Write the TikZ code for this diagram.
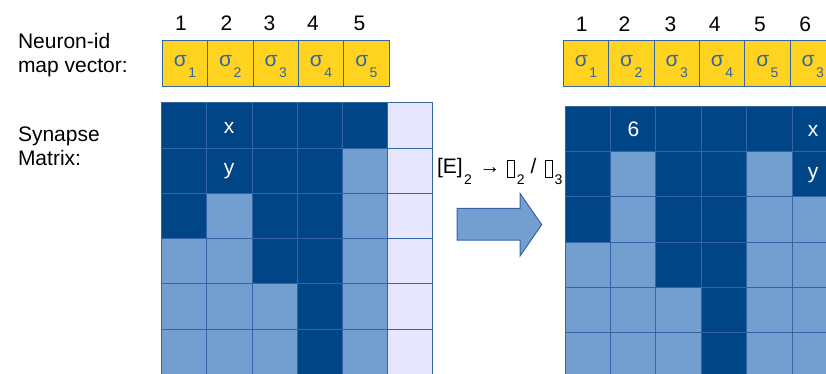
\documentclass[tikz,border=0pt]{standalone}
\usepackage{fontspec}
\setmainfont{Liberation Sans}
\definecolor{cellD}{HTML}{004586}
\definecolor{cellM}{HTML}{729FCF}
\definecolor{cellL}{HTML}{E6E6FF}
\definecolor{vecY}{HTML}{FFD320}
\definecolor{gridB}{HTML}{3465A4}
% lowered index digit
\newcommand\lowsub[2][10.5pt]{\kern1.5pt\raisebox{-#1}{\fontsize{14}{14}\selectfont #2}}
% empty placeholder glyph box
\newcommand\tofu{\raisebox{-3.4pt}{\setlength\fboxsep{0pt}\setlength\fboxrule{0.9pt}\fbox{\rule{0pt}{15.8pt}\hspace{6pt}}}}
\tikzset{
  cellbox/.style={draw=gridB, line width=1pt},
  vecbox/.style={draw=gridB, fill=vecY, line width=1pt, minimum width=45.35pt,
    minimum height=45.3pt, inner sep=0pt, outer sep=0pt},
  big/.style={font=\fontsize{21}{24}\selectfont, inner sep=0pt, outer sep=0pt},
  sig/.style={big, text=gridB, anchor=base},
  num/.style={big, anchor=base},
  celltext/.style={big, text=white, anchor=base},
  caption/.style={big, align=left, anchor=base west},
  bigarrow/.style={fill=cellM, draw=gridB, line width=1pt, line join=miter}
}
\begin{document}
\begin{tikzpicture}[x=1pt,y=-1pt]
\useasboundingbox (0,0) rectangle (826,373);
\clip (0,0) rectangle (826,373);

% row captions (base anchor sits on the last line)
\node[caption] (capvec) at (18,72) {Neuron-id\\map vector:};
\node[caption] (capmat) at (18,165.7) {Synapse\\Matrix:};

% ---- left: map vector ----
\foreach \n/\xx [count=\i] in {1/181,2/226.5,3/269.5,4/313,5/359.5}
  \node[num] (lnum\i) at (\xx,30) {\n};
\foreach \s [count=\i] in {1,2,3,4,5}{
  \node[vecbox] (lvec\i) at ({162.3+45.35*(\i-0.5)},63.35) {};
  \node[sig] (lsig\i) at (lvec\i.center |- 0,66.7) {σ\lowsub{\s}};
}

% ---- left: synapse matrix ----
\foreach \pat [count=\r] in {
  {D,D,D,D,D,L},{D,D,D,D,M,L},{D,M,D,D,M,L},
  {M,M,D,D,M,L},{M,M,M,D,M,L},{M,M,M,D,M,L}}{
  \foreach \c [count=\k] in \pat
    \path[cellbox, fill=cell\c]
      ({161.7+45.2*(\k-1)},{102.7+45.3*(\r-1)}) rectangle +(45.2,45.3);
}
\node[celltext] (lx) at (229,133.3) {x};
\node[celltext] (ly) at (229,174.2) {y};

% ---- transformation arrow ----
\node[big, anchor=base west] (rule) at (437,173.4)
  {[E]\lowsub[11.5pt]{2}\hspace{7.5pt}→\hspace{7pt}\tofu\lowsub[11.5pt]{2}\hspace{6pt}/\hspace{9pt}\tofu\lowsub[11.5pt]{3}};
\path[bigarrow] (457,208.3) -- (520,208.3) -- (520,193.3) -- (541.7,224.7)
  -- (520,256) -- (520,240) -- (457,240) -- cycle;

% ---- right: map vector ----
\foreach \n/\xx [count=\i] in {1/581.7,2/624.5,3/670.5,4/714.7,5/760,6/805.3}
  \node[num] (rnum\i) at (\xx,31.7) {\n};
\foreach \s [count=\i] in {1,2,3,4,5,3}{
  \node[vecbox] (rvec\i) at ({563.3+45.35*(\i-0.5)},63.35) {};
  \node[sig] (rsig\i) at (rvec\i.center |- 0,66.7) {σ\lowsub{\s}};
}

% ---- right: synapse matrix ----
\foreach \pat [count=\r] in {
  {D,D,D,D,D,D},{D,M,D,D,M,D},{D,M,D,D,M,M},
  {M,M,D,D,M,M},{M,M,M,D,M,M},{M,M,M,D,M,M}}{
  \foreach \c [count=\k] in \pat
    \path[cellbox, fill=cell\c]
      ({565+45.4*(\k-1)},{106+45.35*(\r-1)}) rectangle +(45.4,45.35);
}
\node[celltext] (r6) at (633.5,136.7) {6};
\node[celltext] (rx) at (813,136.7) {x};
\node[celltext] (ry) at (813,178.8) {y};
\end{tikzpicture}
\end{document}
